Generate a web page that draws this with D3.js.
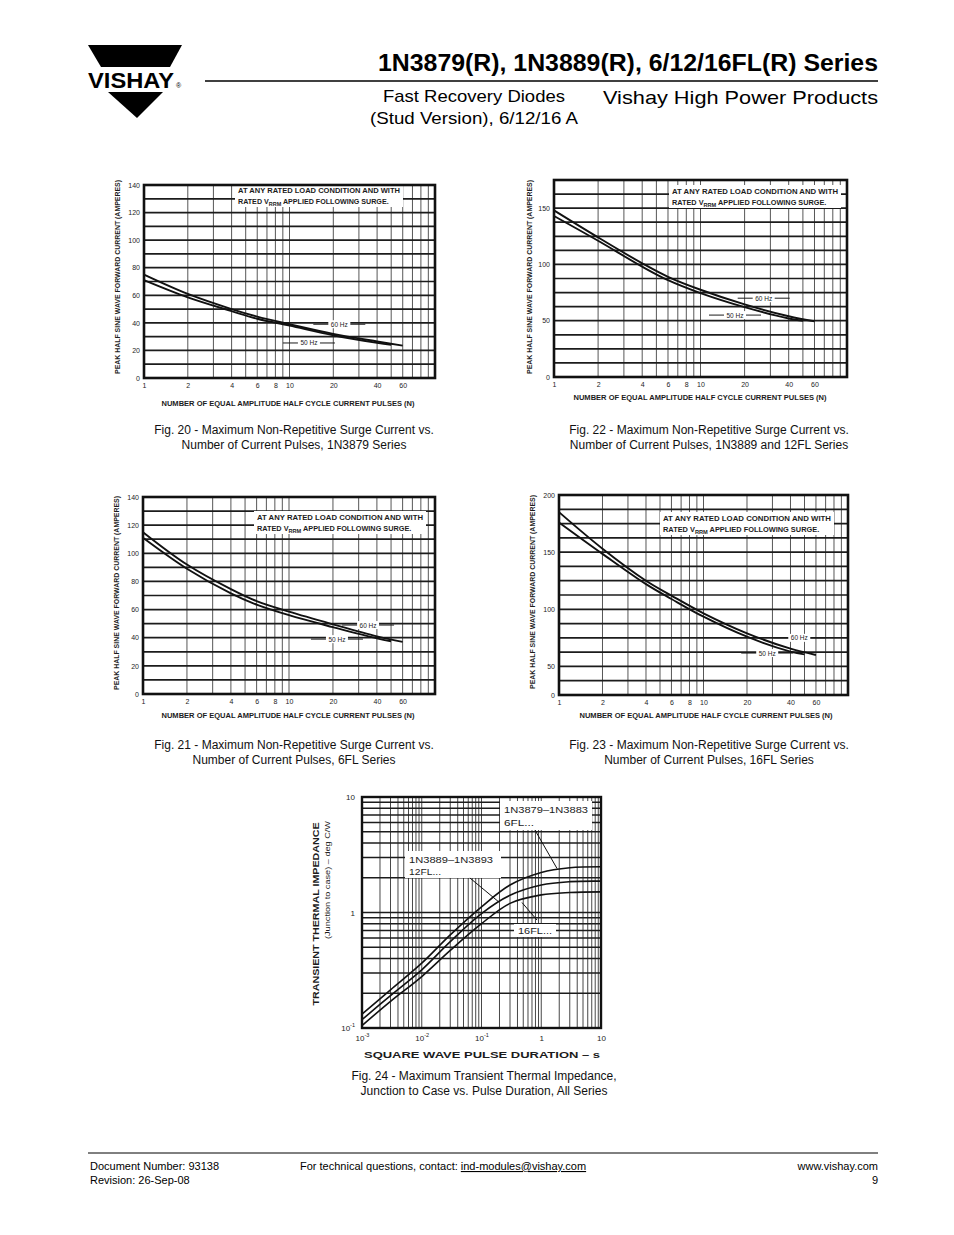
<!DOCTYPE html>
<html>
<head>
<meta charset="utf-8">
<script src="https://cdn.jsdelivr.net/npm/d3@7"></script>
<style>
  body { margin: 0; background: #fff; }
  svg { display: block; }
  text { font-family: "Liberation Sans", Arial, Helvetica, sans-serif; }
</style>
</head>
<body>
<div id="page"></div>
<script>
// Surge current charts: x = number of pulses (log), two series each
const pulsesN60 = [1, 2, 4, 6, 10, 20, 40, 60];
const pulsesN50 = [1, 2, 4, 6, 10, 20, 40, 50];
const surgeTicksX = [1, 2, 4, 6, 8, 10, 20, 40, 60];

const fig20Hz60 = [75, 61, 50, 44.5, 39, 32, 26.5, 23.5];
const fig20Hz50 = [71, 58.5, 48.5, 43, 38, 31, 25.5, 24];
const fig20TicksY = [0, 20, 40, 60, 80, 100, 120, 140];

const fig22Hz60 = [148, 124, 101, 89, 77.5, 64.5, 54, 49.5];
const fig22Hz50 = [143, 121, 98, 86, 74.5, 62, 52, 50];
const fig22TicksY = [0, 50, 100, 150];

const fig21Hz60 = [115, 92, 74.5, 66, 58.5, 49.5, 41, 37];
const fig21Hz50 = [111, 89, 71.5, 63.5, 56, 47.5, 39.5, 37.5];
const fig21TicksY = [0, 20, 40, 60, 80, 100, 120, 140];

const fig23Hz60 = [185, 153, 125, 112, 96.5, 79, 65.5, 60];
const fig23Hz50 = [176, 148.5, 122, 109, 93.5, 76, 63, 60.5];
const fig23TicksY = [25, 50, 100, 150, 200];

// Transient thermal impedance (log-log)
const pulseDuration = [0.001, 0.003, 0.01, 0.03, 0.1, 0.3, 1, 3, 10];
const zth6FL = [0.132, 0.214, 0.364, 0.64, 1.12, 1.73, 2.22, 2.44, 2.49];
const zth12FL = [0.118, 0.191, 0.319, 0.56, 0.98, 1.41, 1.73, 1.85, 1.87];
const zth16FL = [0.105, 0.17, 0.279, 0.47, 0.8, 1.2, 1.42, 1.49, 1.51];
const fig24TicksX = [0.001, 0.01, 0.1, 1, 10];
const fig24TicksY = [0.1, 1, 10];

const chartFont = '"Liberation Sans Narrow", "DejaVu Sans Condensed", "Liberation Sans", sans-serif';
const ink = "#1c1c1c";

let svg = d3
  .select("#page")
  .append("svg")
  .attr("width", 954)
  .attr("height", 1235);

// ---------- header ----------
let header = svg.append("g").attr("id", "header");
header
  .append("path")
  .attr("d", "M88,45 L182,45 L170,67 L101,67 Z")
  .attr("fill", "#000");
header
  .append("path")
  .attr("d", "M108,92 L163,92 L137,118 Z")
  .attr("fill", "#000");
header
  .append("text")
  .attr("x", 88)
  .attr("y", 88)
  .attr("font-size", 22)
  .attr("font-weight", "bold")
  .attr("textLength", 86)
  .attr("lengthAdjust", "spacingAndGlyphs")
  .text("VISHAY");
header
  .append("text")
  .attr("x", 176)
  .attr("y", 88)
  .attr("font-size", 7)
  .text("®");

header
  .append("text")
  .attr("x", 878)
  .attr("y", 71)
  .attr("text-anchor", "end")
  .attr("font-size", 24)
  .attr("font-weight", "bold")
  .attr("textLength", 500)
  .attr("lengthAdjust", "spacingAndGlyphs")
  .text("1N3879(R), 1N3889(R), 6/12/16FL(R) Series");
header
  .append("line")
  .attr("x1", 205)
  .attr("x2", 878)
  .attr("y1", 81)
  .attr("y2", 81)
  .attr("stroke", "#000")
  .attr("stroke-width", 1.5);
header
  .append("text")
  .attr("x", 474)
  .attr("y", 102)
  .attr("text-anchor", "middle")
  .attr("font-size", 17)
  .attr("textLength", 182)
  .attr("lengthAdjust", "spacingAndGlyphs")
  .text("Fast Recovery Diodes");
header
  .append("text")
  .attr("x", 474)
  .attr("y", 124)
  .attr("text-anchor", "middle")
  .attr("font-size", 17)
  .attr("textLength", 208)
  .attr("lengthAdjust", "spacingAndGlyphs")
  .text("(Stud Version), 6/12/16 A");
header
  .append("text")
  .attr("x", 878)
  .attr("y", 104)
  .attr("text-anchor", "end")
  .attr("font-size", 19)
  .attr("textLength", 275)
  .attr("lengthAdjust", "spacingAndGlyphs")
  .text("Vishay High Power Products");

// ---------- helpers ----------
function caption(lines, cx, y) {
  lines.forEach((t, i) => {
    svg
      .append("text")
      .attr("x", cx)
      .attr("y", y + i * 14.5)
      .attr("text-anchor", "middle")
      .attr("font-size", 12)
      .attr("fill", "#111")
      .text(t);
  });
}

function noteBox(g, x, y, w) {
  g.append("rect")
    .attr("x", x - 3)
    .attr("y", y - 9)
    .attr("width", w + 6)
    .attr("height", 23)
    .attr("fill", "#fff");
  g.append("text")
    .attr("x", x)
    .attr("y", y)
    .attr("font-size", 7.2)
    .attr("font-weight", "bold")
    .attr("font-family", chartFont)
    .attr("fill", ink)
    .attr("textLength", w)
    .attr("lengthAdjust", "spacingAndGlyphs")
    .text("AT ANY RATED LOAD CONDITION AND WITH");
  let t2 = g
    .append("text")
    .attr("x", x)
    .attr("y", y + 11)
    .attr("font-size", 7.2)
    .attr("font-weight", "bold")
    .attr("font-family", chartFont)
    .attr("fill", ink)
    .attr("textLength", w * 0.93)
    .attr("lengthAdjust", "spacingAndGlyphs");
  t2.append("tspan").text("RATED V");
  t2.append("tspan").attr("font-size", 5.5).attr("dy", 2).text("RRM");
  t2.append("tspan").attr("dy", -2).text(" APPLIED FOLLOWING SURGE.");
}

function hzLabel(g, px, py, label) {
  g.append("line")
    .attr("x1", px - 26)
    .attr("x2", px + 26)
    .attr("y1", py)
    .attr("y2", py)
    .attr("stroke", ink)
    .attr("stroke-width", 1);
  g.append("rect")
    .attr("x", px - 11)
    .attr("y", py - 4)
    .attr("width", 22)
    .attr("height", 8)
    .attr("fill", "#fff");
  g.append("text")
    .attr("x", px)
    .attr("y", py + 2.5)
    .attr("text-anchor", "middle")
    .attr("font-size", 6.5)
    .attr("font-family", chartFont)
    .attr("fill", ink)
    .text(label);
}

// ---------- surge current chart ----------
function surgePlot(cfg) {
  let xScale = d3
    .scaleLog()
    .domain([1, 100])
    .range([cfg.left, cfg.right]);
  let yScale = d3
    .scaleLinear()
    .domain(cfg.yDomain)
    .range([cfg.bottom, cfg.top]);

  let g = svg.append("g").attr("id", cfg.id);

  // vertical grid
  let xGrid = d3.range(1, 10).concat(d3.range(10, 101, 10));
  g.append("g")
    .selectAll("line")
    .data(xGrid)
    .enter()
    .append("line")
    .attr("x1", d => xScale(d))
    .attr("x2", d => xScale(d))
    .attr("y1", cfg.top)
    .attr("y2", cfg.bottom)
    .attr("stroke", "#444")
    .attr("stroke-width", 0.9);

  // horizontal grid
  let yGrid = d3.range(cfg.yDomain[0], cfg.yDomain[1] + 0.001, cfg.yStep);
  g.append("g")
    .selectAll("line")
    .data(yGrid)
    .enter()
    .append("line")
    .attr("x1", cfg.left)
    .attr("x2", cfg.right)
    .attr("y1", d => yScale(d))
    .attr("y2", d => yScale(d))
    .attr("stroke", ink)
    .attr("stroke-width", 1.7);

  noteBox(g, cfg.note[0], cfg.note[1], cfg.note[2]);

  // curves
  let line = d3
    .line()
    .x(d => xScale(d[0]))
    .y(d => yScale(d[1]))
    .curve(d3.curveCatmullRom.alpha(0.5));
  [
    [pulsesN60, cfg.hz60],
    [pulsesN50, cfg.hz50]
  ].forEach(s => {
    g.append("path")
      .datum(d3.zip(s[0], s[1]))
      .attr("d", line)
      .attr("fill", "none")
      .attr("stroke", "#111")
      .attr("stroke-width", 1.9);
  });

  hzLabel(g, xScale(cfg.label60[0]), yScale(cfg.label60[1]), "60 Hz");
  hzLabel(g, xScale(cfg.label50[0]), yScale(cfg.label50[1]), "50 Hz");

  // frame
  g.append("rect")
    .attr("x", cfg.left)
    .attr("y", cfg.top)
    .attr("width", cfg.right - cfg.left)
    .attr("height", cfg.bottom - cfg.top)
    .attr("fill", "none")
    .attr("stroke", "#111")
    .attr("stroke-width", 2.6);

  // axes
  let yAxis = d3
    .axisLeft(yScale)
    .tickValues(cfg.yTicks)
    .tickSize(0)
    .tickPadding(4)
    .tickFormat(cfg.yFormat || d3.format("d"));
  g.append("g")
    .attr("transform", `translate(${cfg.left}, 0)`)
    .call(yAxis)
    .call(a => a.select(".domain").remove())
    .attr("font-size", 7)
    .attr("font-family", chartFont)
    .selectAll("text")
    .attr("fill", ink);

  let xAxis = d3
    .axisBottom(xScale)
    .tickValues(surgeTicksX)
    .tickSize(0)
    .tickPadding(5)
    .tickFormat(d3.format("d"));
  g.append("g")
    .attr("transform", `translate(0, ${cfg.bottom})`)
    .call(xAxis)
    .call(a => a.select(".domain").remove())
    .attr("font-size", 7)
    .attr("font-family", chartFont)
    .selectAll("text")
    .attr("fill", ink);

  // axis titles
  g.append("text")
    .attr("transform", `translate(${cfg.yTitle[0]}, ${cfg.yTitle[1]}) rotate(-90)`)
    .attr("text-anchor", "middle")
    .attr("font-size", 6.8)
    .attr("font-weight", "bold")
    .attr("font-family", chartFont)
    .attr("fill", ink)
    .attr("textLength", 194)
    .attr("lengthAdjust", "spacingAndGlyphs")
    .text("PEAK HALF SINE WAVE FORWARD CURRENT (AMPERES)");
  g.append("text")
    .attr("x", cfg.xTitle[0])
    .attr("y", cfg.xTitle[1])
    .attr("text-anchor", "middle")
    .attr("font-size", 6.8)
    .attr("font-weight", "bold")
    .attr("font-family", chartFont)
    .attr("fill", ink)
    .attr("textLength", 253)
    .attr("lengthAdjust", "spacingAndGlyphs")
    .text("NUMBER OF EQUAL AMPLITUDE HALF CYCLE CURRENT PULSES (N)");
}

surgePlot({
  id: "fig20",
  left: 144, right: 435, top: 185, bottom: 378,
  yDomain: [0, 140], yStep: 10, yTicks: fig20TicksY,
  hz60: fig20Hz60, hz50: fig20Hz50,
  label60: [22, 39], label50: [13.6, 25.4],
  note: [238, 193, 162],
  yTitle: [120, 277], xTitle: [288, 406]
});
caption(["Fig. 20 - Maximum Non-Repetitive Surge Current vs.",
  "Number of Current Pulses, 1N3879 Series"], 294, 434);

surgePlot({
  id: "fig22",
  left: 554, right: 847, top: 180, bottom: 377,
  yDomain: [0, 175], yStep: 12.5, yTicks: fig22TicksY,
  hz60: fig22Hz60, hz50: fig22Hz50,
  label60: [27, 70], label50: [17.2, 55],
  note: [672, 194, 166],
  yTitle: [532, 277], xTitle: [700, 400]
});
caption(["Fig. 22 - Maximum Non-Repetitive Surge Current vs.",
  "Number of Current Pulses, 1N3889 and 12FL Series"], 709, 434);

surgePlot({
  id: "fig21",
  left: 143, right: 435, top: 497, bottom: 694,
  yDomain: [0, 140], yStep: 10, yTicks: fig21TicksY,
  hz60: fig21Hz60, hz50: fig21Hz50,
  label60: [34.8, 49], label50: [21.3, 39],
  note: [257, 520, 166],
  yTitle: [119, 593], xTitle: [288, 718]
});
caption(["Fig. 21 - Maximum Non-Repetitive Surge Current vs.",
  "Number of Current Pulses, 6FL Series"], 294, 749);

surgePlot({
  id: "fig23",
  left: 559, right: 848, top: 495, bottom: 695,
  yDomain: [25, 200], yStep: 12.5, yTicks: fig23TicksY,
  yFormat: d => (d === 25 ? "0" : d),
  hz60: fig23Hz60, hz50: fig23Hz50,
  label60: [46, 75], label50: [27.6, 61.7],
  note: [663, 521, 168],
  yTitle: [535, 592], xTitle: [706, 718]
});
caption(["Fig. 23 - Maximum Non-Repetitive Surge Current vs.",
  "Number of Current Pulses, 16FL Series"], 709, 749);

// ---------- transient thermal impedance ----------
function thermalPlot() {
  let left = 362, right = 601, top = 797, bottom = 1028;
  let xScale = d3.scaleLog().domain([0.001, 10]).range([left, right]);
  let yScale = d3.scaleLog().domain([0.1, 10]).range([bottom, top]);
  let g = svg.append("g").attr("id", "fig24");

  let xGrid = [];
  [0.001, 0.01, 0.1, 1].forEach(dec => d3.range(1, 10).forEach(k => xGrid.push(dec * k)));
  xGrid.push(10);
  let yGrid = [];
  [0.1, 1].forEach(dec => d3.range(1, 10).forEach(k => yGrid.push(dec * k)));
  yGrid.push(10);

  g.append("g")
    .selectAll("line")
    .data(xGrid)
    .enter()
    .append("line")
    .attr("x1", d => xScale(d))
    .attr("x2", d => xScale(d))
    .attr("y1", top)
    .attr("y2", bottom)
    .attr("stroke", "#333")
    .attr("stroke-width", 0.9);
  g.append("g")
    .selectAll("line")
    .data(yGrid)
    .enter()
    .append("line")
    .attr("x1", left)
    .attr("x2", right)
    .attr("y1", d => yScale(d))
    .attr("y2", d => yScale(d))
    .attr("stroke", ink)
    .attr("stroke-width", 1.5);

  // label boxes
  let boxes = [
    [500, 801, 92, 29],
    [405, 851, 96, 27],
    [514, 924, 42, 13]
  ];
  boxes.forEach(b => {
    g.append("rect")
      .attr("x", b[0])
      .attr("y", b[1])
      .attr("width", b[2])
      .attr("height", b[3])
      .attr("fill", "#fff");
  });

  let line = d3
    .line()
    .x(d => xScale(d[0]))
    .y(d => yScale(d[1]))
    .curve(d3.curveCatmullRom.alpha(0.5));
  [zth6FL, zth12FL, zth16FL].forEach(s => {
    g.append("path")
      .datum(d3.zip(pulseDuration, s))
      .attr("d", line)
      .attr("fill", "none")
      .attr("stroke", "#111")
      .attr("stroke-width", 1.6);
  });

  // leader lines
  let leaders = [
    [[0.785, 5.18], [1.84, 2.4]],
    [[0.064, 1.99], [0.189, 1.25]],
    [[0.85, 0.86], [0.476, 1.22]]
  ];
  leaders.forEach(l => {
    g.append("line")
      .attr("x1", xScale(l[0][0]))
      .attr("y1", yScale(l[0][1]))
      .attr("x2", xScale(l[1][0]))
      .attr("y2", yScale(l[1][1]))
      .attr("stroke", "#111")
      .attr("stroke-width", 1);
  });

  let labels = [
    [504, 813, "1N3879\u20131N3883", 84],
    [504, 826, "6FL...", 30],
    [409, 863, "1N3889\u20131N3893", 84],
    [409, 875, "12FL...", 32],
    [518, 934, "16FL...", 34]
  ];
  labels.forEach(l => {
    g.append("text")
      .attr("x", l[0])
      .attr("y", l[1])
      .attr("font-size", 9)
      .attr("font-family", chartFont)
      .attr("fill", ink)
      .attr("textLength", l[3])
      .attr("lengthAdjust", "spacingAndGlyphs")
      .text(l[2]);
  });

  g.append("rect")
    .attr("x", left)
    .attr("y", top)
    .attr("width", right - left)
    .attr("height", bottom - top)
    .attr("fill", "none")
    .attr("stroke", "#111")
    .attr("stroke-width", 2.4);

  // tick labels with superscripts
  let powerLabel = (sel, d) => {
    let e = Math.round(Math.log10(d));
    sel.text(null);
    if (e === 0) sel.append("tspan").text("1");
    else if (e === 1) sel.append("tspan").text("10");
    else {
      sel.append("tspan").text("10");
      sel.append("tspan").attr("dy", -4).attr("font-size", 5.5).text(e);
    }
  };

  let xAxis = d3.axisBottom(xScale).tickValues(fig24TicksX).tickSize(0).tickPadding(7);
  g.append("g")
    .attr("transform", `translate(0, ${bottom})`)
    .call(xAxis)
    .call(a => a.select(".domain").remove())
    .attr("font-size", 8)
    .attr("font-family", chartFont)
    .selectAll("text")
    .attr("fill", ink)
    .each(function(d) {
      powerLabel(d3.select(this), d);
    });

  let yAxis = d3.axisLeft(yScale).tickValues(fig24TicksY).tickSize(0).tickPadding(7);
  g.append("g")
    .attr("transform", `translate(${left}, 0)`)
    .call(yAxis)
    .call(a => a.select(".domain").remove())
    .attr("font-size", 8)
    .attr("font-family", chartFont)
    .selectAll("text")
    .attr("fill", ink)
    .each(function(d) {
      powerLabel(d3.select(this), d);
    });

  g.append("text")
    .attr("transform", "translate(319, 914) rotate(-90)")
    .attr("text-anchor", "middle")
    .attr("font-size", 8.5)
    .attr("font-weight", "bold")
    .attr("font-family", chartFont)
    .attr("fill", ink)
    .attr("textLength", 183)
    .attr("lengthAdjust", "spacingAndGlyphs")
    .text("TRANSIENT THERMAL IMPEDANCE");
  g.append("text")
    .attr("transform", "translate(330, 880) rotate(-90)")
    .attr("text-anchor", "middle")
    .attr("font-size", 7.5)
    .attr("font-family", chartFont)
    .attr("fill", ink)
    .attr("textLength", 118)
    .attr("lengthAdjust", "spacingAndGlyphs")
    .text("(Junction to case) \u2013 deg C/W");
  g.append("text")
    .attr("x", 482)
    .attr("y", 1058)
    .attr("text-anchor", "middle")
    .attr("font-size", 8.5)
    .attr("font-weight", "bold")
    .attr("font-family", chartFont)
    .attr("fill", ink)
    .attr("textLength", 236)
    .attr("lengthAdjust", "spacingAndGlyphs")
    .text("SQUARE WAVE PULSE DURATION \u2013 s");
}

thermalPlot();
caption(["Fig. 24 - Maximum Transient Thermal Impedance,",
  "Junction to Case vs. Pulse Duration, All Series"], 484, 1080);

// ---------- footer ----------
let footer = svg.append("g").attr("id", "footer").attr("font-size", 11);
footer
  .append("line")
  .attr("x1", 88)
  .attr("x2", 878)
  .attr("y1", 1153)
  .attr("y2", 1153)
  .attr("stroke", "#000")
  .attr("stroke-width", 1);
footer.append("text").attr("x", 90).attr("y", 1170).text("Document Number: 93138");
footer.append("text").attr("x", 90).attr("y", 1184).text("Revision: 26-Sep-08");
let contact = footer.append("text").attr("x", 300).attr("y", 1170);
contact.append("tspan").text("For technical questions, contact: ");
contact.append("tspan").attr("text-decoration", "underline").text("ind-modules@vishay.com");
footer.append("text").attr("x", 878).attr("y", 1170).attr("text-anchor", "end").text("www.vishay.com");
footer.append("text").attr("x", 878).attr("y", 1184).attr("text-anchor", "end").text("9");
</script>
</body>
</html>
